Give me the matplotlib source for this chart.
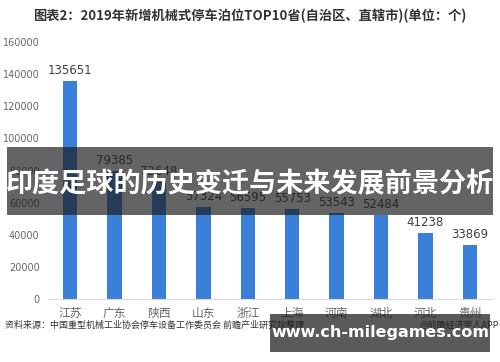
import matplotlib
matplotlib.use('Agg')
import matplotlib.pyplot as plt
from matplotlib.patches import Rectangle

plt.rcParams['font.family'] = ['Noto Sans CJK SC', 'DejaVu Sans']

provinces = ['江苏', '广东', '陕西', '山东', '浙江', '上海', '河南', '湖北', '河北', '贵州']
spaces = [135651, 79385, 72648, 57324, 56595, 55753, 53543, 52484, 41238, 33869]
yticks = [0, 20000, 40000, 60000, 80000, 100000, 120000, 140000, 160000]

fig = plt.figure(figsize=(5, 3.62), dpi=100)
ax = fig.add_axes([0.096, 0.174, 0.888, 0.71])

x = range(len(provinces))
ax.bar(x, spaces, width=0.32, color='#3a80d9')
for i, v in zip(x, spaces):
    ax.text(i, v + 2500, str(v), ha='center', va='bottom', fontsize=8.5,
            color='#404040', family='DejaVu Sans')

ax.set_xlim(-0.5, 9.5)
ax.set_ylim(0, 160000)
ax.set_yticks(yticks)
ax.set_yticklabels([str(t) for t in yticks], fontsize=7, color='#666666',
                   family='DejaVu Sans')
ax.set_xticks(list(x))
ax.set_xticklabels(provinces, fontsize=8.5, color='#666666')
ax.tick_params(length=0, pad=6)
for s in ['top', 'right', 'left']:
    ax.spines[s].set_visible(False)
ax.spines['bottom'].set_color('#d9d9d9')

fig.text(0.5, 0.955, '图表2：2019年新增机械式停车泊位TOP10省(自治区、直辖市)(单位：个)',
         ha='center', va='center', fontsize=9.5, fontweight='bold', color='#333333')
fig.text(0.01, 0.102, '资料来源：中国重型机械工业协会停车设备工作委员会 前瞻产业研究院整理',
         ha='left', va='center', fontsize=6.5, color='#333333')
fig.text(0.998, 0.102, '@前瞻经济学人APP', ha='right', va='center',
         fontsize=6.5, color='#333333')

# overlay banners
fig.patches.append(Rectangle((0.014, 0.406), 0.972, 0.188, transform=fig.transFigure,
                             facecolor='#1b1b1b', alpha=0.68, zorder=5))
fig.text(0.5, 0.49, '印度足球的历史变迁与未来发展前景分析', ha='center', va='center',
         fontsize=19.5, fontweight='bold', color='white', zorder=6)
fig.patches.append(Rectangle((0.54, 0.028), 0.44, 0.105, transform=fig.transFigure,
                             facecolor='#1b1b1b', alpha=0.72, zorder=5))
fig.text(0.76, 0.082, 'www.ch-milegames.com', ha='center', va='center',
         fontsize=11.5, fontweight='bold', color='white', family='DejaVu Sans', zorder=6)

fig.savefig('out.png', dpi=100, facecolor='white')
